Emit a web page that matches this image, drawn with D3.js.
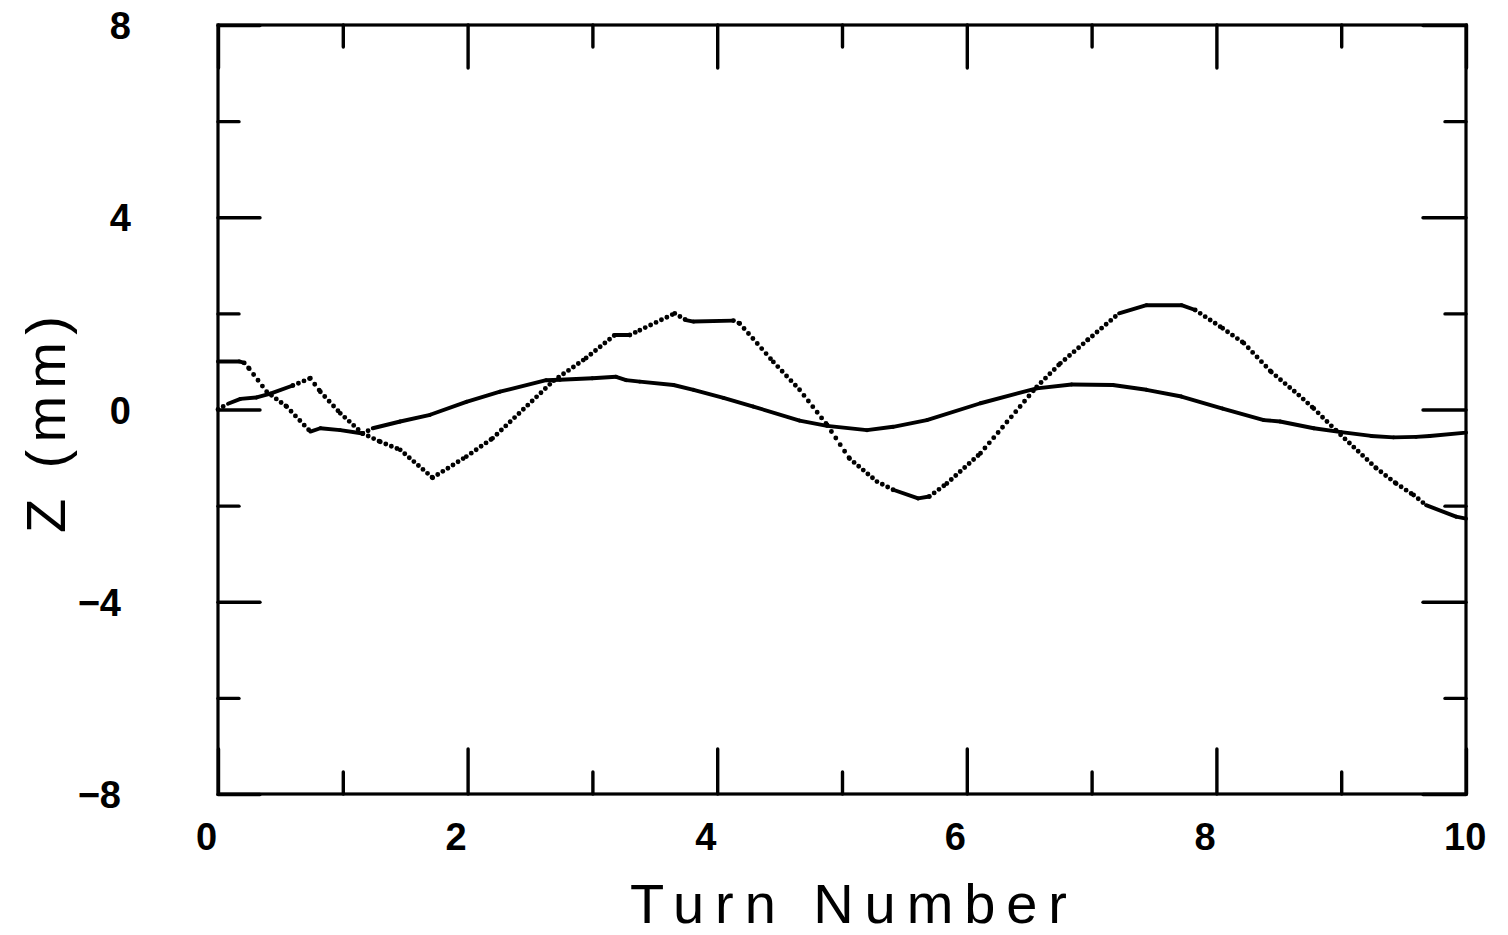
<!DOCTYPE html>
<html><head><meta charset="utf-8">
<script src="https://cdn.jsdelivr.net/npm/d3@7"></script>
<style>body{margin:0;background:#fff} svg{display:block}</style>
</head><body>
<svg id="c" width="1508" height="935"></svg>
<script>
// ---- data ----
const turnsA = [0, 0.17, 0.21, 0.25, 0.39, 0.55, 0.74, 0.82, 0.98, 1.16, 1.24, 1.46, 1.7, 1.99, 2.26, 2.63, 2.74, 3.0, 3.19, 3.27, 3.38, 3.65, 3.81, 4.05, 4.29, 4.66, 4.88, 5.2, 5.41, 5.68, 6.11, 6.56, 6.84, 7.17, 7.44, 7.72, 8.05, 8.38, 8.51, 8.78, 9.0, 9.24, 9.42, 9.6, 9.71, 10.0];
const zA     = [1.0, 1.0, 0.97, 0.85, 0.37, 0.06, -0.46, -0.39, -0.43, -0.5, -0.39, -0.25, -0.11, 0.16, 0.37, 0.61, 0.62, 0.65, 0.68, 0.61, 0.58, 0.51, 0.41, 0.24, 0.06, -0.23, -0.34, -0.43, -0.36, -0.22, 0.13, 0.44, 0.52, 0.51, 0.41, 0.27, 0.02, -0.22, -0.25, -0.39, -0.47, -0.55, -0.58, -0.57, -0.55, -0.48];

const turnsB = [0, 0.08, 0.18, 0.31, 0.42, 0.6, 0.74, 0.82, 0.98, 1.16, 1.3, 1.46, 1.72, 1.99, 2.2, 2.69, 2.95, 3.18, 3.3, 3.38, 3.66, 3.75, 3.81, 4.13, 4.18, 4.45, 4.66, 4.88, 5.06, 5.28, 5.41, 5.61, 5.7, 5.84, 6.11, 6.56, 6.75, 6.97, 7.22, 7.44, 7.72, 7.83, 8.05, 8.22, 8.44, 8.66, 8.78, 8.96, 9.28, 9.44, 9.58, 9.68, 9.92, 10.0];
const zB     = [0, 0.12, 0.22, 0.25, 0.33, 0.5, 0.65, 0.37, -0.08, -0.5, -0.67, -0.84, -1.42, -0.98, -0.6, 0.6, 1.07, 1.55, 1.55, 1.65, 2.0, 1.86, 1.83, 1.85, 1.79, 0.99, 0.41, -0.32, -1.02, -1.5, -1.67, -1.85, -1.81, -1.54, -0.91, 0.47, 0.96, 1.45, 2.0, 2.17, 2.17, 2.07, 1.69, 1.38, 0.78, 0.3, 0.02, -0.44, -1.22, -1.54, -1.78, -1.99, -2.23, -2.27];

const xMajorTicks = [0, 2, 4, 6, 8, 10];
const xMinorTicks = [1, 3, 5, 7, 9];
const xTickLabels = ["0", "2", "4", "6", "8", "10"];
const yMajorTicks = [-8, -4, 0, 4, 8];
const yMinorTicks = [-6, -2, 2, 6];
const yTickLabels = ["\u22128", "\u22124", "0", "4", "8"];
const xTitle = "Turn Number";
const yTitle = "Z  (mm)";

// ---- layout ----
const L = 218, R = 1466, T = 25, B = 794;
const svg = d3.select("#c");
const x = d3.scaleLinear().domain([0, 10]).range([L, R]);
const y = d3.scaleLinear().domain([-8, 8]).range([B, T]);

function styleTicks(g) {
  g.select(".domain").remove();
  g.selectAll(".tick line").attr("stroke", "#000").attr("stroke-width", 3.4).attr("stroke-linecap", "round");
  g.selectAll(".tick text").remove();
}
svg.append("g").attr("transform", `translate(0,${B})`).call(d3.axisBottom(x).tickValues(xMajorTicks).tickSize(-45).tickFormat("")).call(styleTicks);
svg.append("g").attr("transform", `translate(0,${B})`).call(d3.axisBottom(x).tickValues(xMinorTicks).tickSize(-22).tickFormat("")).call(styleTicks);
svg.append("g").attr("transform", `translate(0,${T})`).call(d3.axisTop(x).tickValues(xMajorTicks).tickSize(-43).tickFormat("")).call(styleTicks);
svg.append("g").attr("transform", `translate(0,${T})`).call(d3.axisTop(x).tickValues(xMinorTicks).tickSize(-22).tickFormat("")).call(styleTicks);
svg.append("g").attr("transform", `translate(${L},0)`).call(d3.axisLeft(y).tickValues(yMajorTicks).tickSize(-42).tickFormat("")).call(styleTicks);
svg.append("g").attr("transform", `translate(${L},0)`).call(d3.axisLeft(y).tickValues(yMinorTicks).tickSize(-21).tickFormat("")).call(styleTicks);
svg.append("g").attr("transform", `translate(${R},0)`).call(d3.axisRight(y).tickValues(yMajorTicks).tickSize(-43).tickFormat("")).call(styleTicks);
svg.append("g").attr("transform", `translate(${R},0)`).call(d3.axisRight(y).tickValues(yMinorTicks).tickSize(-21).tickFormat("")).call(styleTicks);

svg.append("rect").attr("x", L).attr("y", T).attr("width", R - L).attr("height", B - T)
  .attr("fill", "none").attr("stroke", "#000").attr("stroke-width", 3.2);

const font = "'Liberation Sans', Arial, Helvetica, sans-serif";
svg.append("g").selectAll("text").data(xMajorTicks).join("text")
  .attr("x", d => x(d) - 22).attr("y", 850)
  .attr("font-family", font).attr("font-size", 38).attr("font-weight", "bold").attr("fill", "#000")
  .text((d, i) => xTickLabels[i]);
svg.append("g").selectAll("text").data(yMajorTicks).join("text")
  .attr("x", d => d < 0 ? 121 : 131).attr("y", d => y(d) + 14)
  .attr("text-anchor", "end")
  .attr("font-family", font).attr("font-size", 38).attr("font-weight", "bold").attr("fill", "#000")
  .text((d, i) => yTickLabels[i]);

svg.append("text").attr("x", 630).attr("y", 923)
  .attr("font-family", font).attr("font-size", 56).attr("fill", "#000")
  .attr("textLength", 437).attr("lengthAdjust", "spacing")
  .text(xTitle);
svg.append("text").attr("transform", "translate(65,533) rotate(-90)")
  .attr("font-family", font).attr("font-size", 56).attr("fill", "#000")
  .attr("textLength", 217).attr("lengthAdjust", "spacing")
  .text(yTitle);

// series: segment by segment; steeper segments come out as a dotted plotter trace
function drawSeries(ts, zs) {
  const pts = ts.map((t, i) => [x(t), y(zs[i])]);
  const g = svg.append("g");
  const line = d3.line();
  for (let i = 0; i < pts.length - 1; i++) {
    const p0 = pts[i], p1 = pts[i + 1];
    const s = Math.abs((p1[1] - p0[1]) / (p1[0] - p0[0]));
    const dotted = s >= 0.4;
    const gap = Math.max(6, 4.4 * Math.sqrt(1 + s * s));
    g.append("path").attr("d", line([p0, p1]))
      .attr("fill", "none").attr("stroke", "#000")
      .attr("stroke-width", dotted ? 4.9 : 3.9)
      .attr("stroke-linecap", "round")
      .attr("stroke-dasharray", dotted ? `0 ${gap.toFixed(2)}` : null);
  }
}
drawSeries(turnsA, zA);
drawSeries(turnsB, zB);
</script>
</body></html>
